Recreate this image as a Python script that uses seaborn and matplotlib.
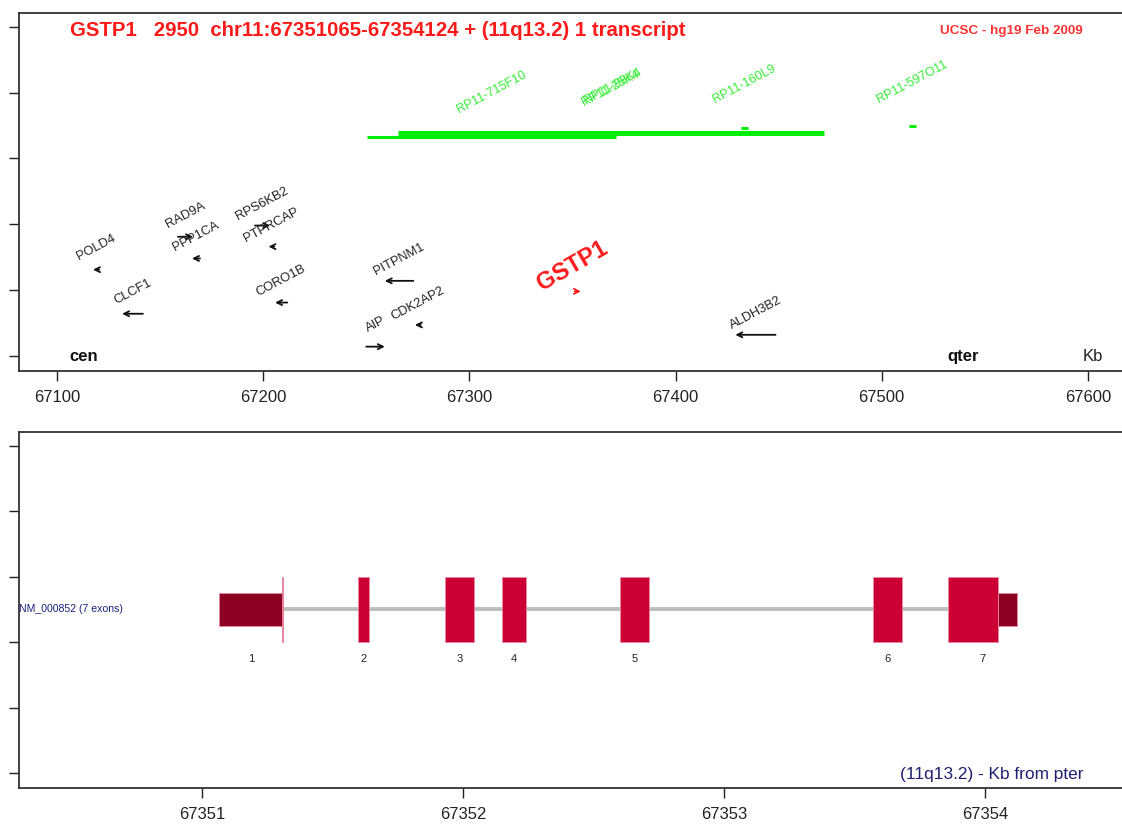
import matplotlib
matplotlib.use("Agg")
import matplotlib.pyplot as plt
import pandas as pd
import seaborn as sns

# ---- overview track: neighbouring genes (positions in kb) ----
gene_names = ["POLD4", "CLCF1", "RAD9A", "PPP1CA", "RPS6KB2", "PTPRCAP",
              "CORO1B", "AIP", "PITPNM1", "CDK2AP2", "GSTP1", "ALDH3B2"]
gene_starts = [67117.5, 67131.6, 67158.7, 67165.5, 67196.0, 67202.6,
               67205.8, 67250.0, 67259.0, 67273.6, 67351.065, 67429.0]
gene_ends = [67120.5, 67141.7, 67166.0, 67169.4, 67203.4, 67205.4,
             67211.7, 67259.0, 67272.8, 67276.4, 67354.124, 67448.5]
gene_strands = ["-", "-", "+", "-", "+", "-", "-", "+", "-", "-", "+", "-"]
gene_rows = [1.31, 0.64, 1.81, 1.48, 1.98, 1.66, 0.81, 0.14, 1.14, 0.47, 0.98, 0.32]

# ---- BAC clones ----
clone_names = ["RP11-715F10", "RP11-25K4", "RP11-98K4", "RP11-160L9", "RP11-597O11"]
clone_starts = [67250.5, 67265.5, 67266.0, 67431.8, 67513.0]
clone_ends = [67370.9, 67471.8, 67471.0, 67435.2, 67516.5]
clone_rows = [3.33, 3.39, 3.39, 3.46, 3.49]

overview_ticks = [67100, 67200, 67300, 67400, 67500, 67600]

# ---- transcript NM_000852 exons (kb) ----
exon_numbers = [1, 2, 3, 4, 5, 6, 7]
exon_starts = [67351.065, 67351.598, 67351.931, 67352.149, 67352.602, 67353.571, 67353.858]
exon_ends = [67351.310, 67351.640, 67352.042, 67352.241, 67352.713, 67353.682, 67354.124]
cds_start = 67351.306
cds_end = 67354.050
detail_ticks = [67351, 67352, 67353, 67354]

title_text = "GSTP1   2950  chr11:67351065-67354124 + (11q13.2) 1 transcript"
source_text = "UCSC - hg19 Feb 2009"
transcript_label = "NM_000852 (7 exons)"

sns.set_style("white")
plt.rcParams["font.family"] = ["Liberation Sans", "DejaVu Sans"]

W, H = 1122, 827
fig = plt.figure(figsize=(W / 100, H / 100), dpi=100)


def frame(px_left, px_top, px_right, px_bottom):
    return fig.add_axes([px_left / W, 1 - px_bottom / H,
                         (px_right - px_left) / W, (px_bottom - px_top) / H])


def style_axes(ax, ticks):
    for s in ax.spines.values():
        s.set_color("#333333")
        s.set_linewidth(1.3)
    ax.set_xticks(ticks)
    ax.set_xticklabels([str(t) for t in ticks])
    ax.set_yticks([0, 1, 2, 3, 4, 5])
    ax.set_yticklabels([])
    ax.tick_params(axis="both", direction="out", length=7.5, width=1.0,
                   color="#222222", labelsize=12, labelcolor="#222222", pad=6,
                   left=True, bottom=True)
    ax.set_ylim(-0.23, 5.21)


# ================= overview panel =================
ax1 = frame(19, 13, 1124, 371)
ax1.set_xlim(67081.6, 67617.5)
style_axes(ax1, overview_ticks)

clone_lw = [2.2, 3.6, 3.6, 2.2, 2.2]
for i, name in enumerate(clone_names):
    ax1.hlines(clone_rows[i], clone_starts[i], clone_ends[i], color="#00ee00",
               lw=clone_lw[i], zorder=2)
    cx = (clone_starts[i] + clone_ends[i]) / 2
    dx = 0.8 if i == 2 else 0.0
    dy = 0.03 if i == 2 else 0.0
    ax1.text(cx + dx, clone_rows[i] + 0.67 + dy, name, rotation=28, ha="center",
             va="center", fontsize=9, color="#33ee33", rotation_mode="anchor")

for name, s, e, strand, row in zip(gene_names, gene_starts, gene_ends,
                                   gene_strands, gene_rows):
    is_focus = name == "GSTP1"
    col = "#ff1a1a" if is_focus else "#111111"
    tail, head = (s, e) if strand == "+" else (e, s)
    ax1.annotate("", xy=(head, row), xytext=(tail, row),
                 arrowprops=dict(arrowstyle="->", color=col, lw=1.3,
                                 mutation_scale=9, shrinkA=0, shrinkB=0))
    cx = (s + e) / 2
    if is_focus:
        ax1.text(cx - 2.5, row + 0.38, name, rotation=30, ha="center", va="center",
                 fontsize=17, fontweight="bold", color=col, rotation_mode="anchor")
    else:
        ax1.text(cx, row + 0.33, name, rotation=28, ha="center", va="center",
                 fontsize=9.3, color="#222222", rotation_mode="anchor")

ax1.text(0.046, 0.04, "cen", transform=ax1.transAxes, fontsize=12,
         fontweight="bold", color="#111111", va="center", ha="left")
ax1.text(0.840, 0.04, "qter", transform=ax1.transAxes, fontsize=12,
         fontweight="bold", color="#111111", va="center", ha="left")
ax1.text(0.963, 0.04, "Kb", transform=ax1.transAxes, fontsize=12,
         color="#222222", va="center", ha="left")

fig.text(70 / W, 1 - 30 / H, title_text, fontsize=14.7, fontweight="bold",
         color="#ff1a1a", ha="left", va="center")
fig.text(1083 / W, 1 - 31 / H, source_text, fontsize=9.7, fontweight="bold",
         color="#ff3333", ha="right", va="center")

# ================= transcript panel =================
ax2 = frame(19, 432, 1124, 788)
ax2.set_xlim(67350.299, 67354.533)
style_axes(ax2, detail_ticks)

exons = pd.DataFrame({"n": exon_numbers, "start": exon_starts, "end": exon_ends})

# intron backbone
ax2.hlines(2.5, exons["end"].iloc[0], exons["start"].iloc[-1], color="#bdbdbd",
           lw=2.8, zorder=1)

utr_col, cds_col, edge_col = "#8c0022", "#cc0033", "#e88aa0"
for _, r in exons.iterrows():
    # untranslated parts (half height)
    if r["start"] < cds_start:
        ax2.bar(r["start"], 0.5, width=min(r["end"], cds_start) - r["start"],
                bottom=2.25, align="edge", color=utr_col, edgecolor=edge_col,
                linewidth=0.6, zorder=2)
    if r["end"] > cds_end:
        ax2.bar(max(r["start"], cds_end), 0.5, width=r["end"] - max(r["start"], cds_end),
                bottom=2.25, align="edge", color=utr_col, edgecolor=edge_col,
                linewidth=0.6, zorder=2)
    # coding part (full height)
    cs, ce = max(r["start"], cds_start), min(r["end"], cds_end)
    if ce > cs:
        ax2.bar(cs, 1.0, width=ce - cs, bottom=2.0, align="edge", color=cds_col,
                edgecolor=edge_col, linewidth=0.6, zorder=3)
    ax2.text((r["start"] + r["end"]) / 2, 1.74, str(int(r["n"])), ha="center",
             va="center", fontsize=8, color="#222222")

ax2.text(0.0, 2.5, transcript_label, transform=ax2.get_yaxis_transform(),
         fontsize=7.6, color="#1a237e", ha="left", va="center")
ax2.text(0.963, 0.037, "(11q13.2) - Kb from pter", transform=ax2.transAxes,
         fontsize=12.4, color="#1f1f70", ha="right", va="center")

fig.savefig("out.png", dpi=100)
